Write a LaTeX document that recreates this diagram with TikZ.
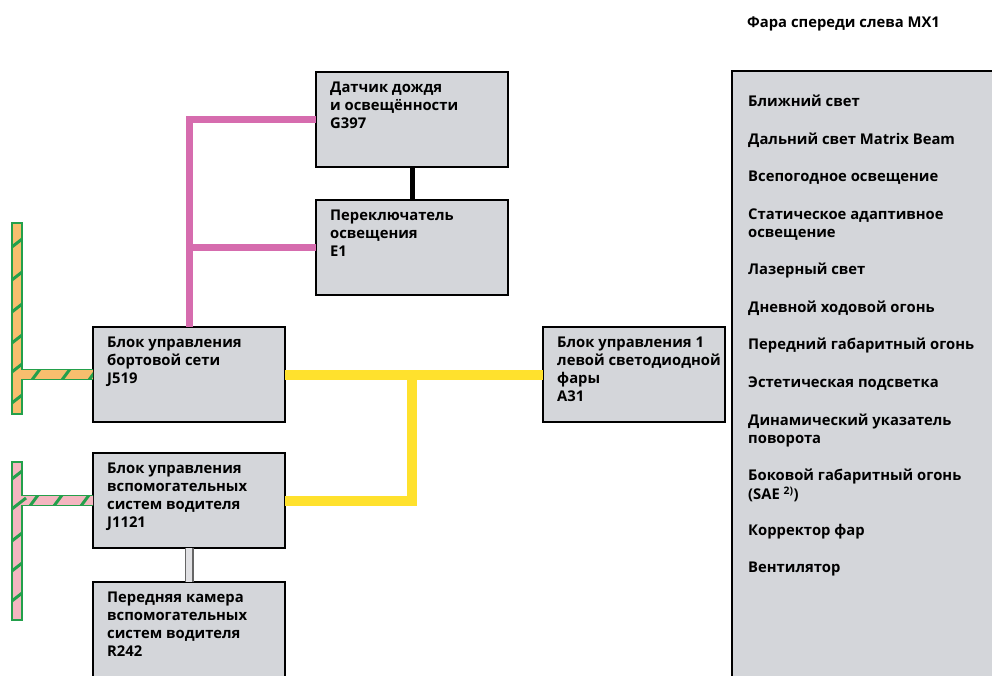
\documentclass[tikz,border=0pt]{standalone}
\usepackage{fontspec}
\setmainfont{Open Sans}
\definecolor{boxgray}{RGB}{212,214,218}
\definecolor{pinkline}{RGB}{214,108,174}
\definecolor{yelline}{RGB}{255,225,45}
\definecolor{busgreen}{RGB}{35,160,75}
\definecolor{busorange}{RGB}{247,190,110}
\definecolor{buspink}{RGB}{244,182,192}
\definecolor{camgray}{RGB}{225,225,228}
\begin{document}
\begin{tikzpicture}[x=1pt,y=-1pt,
  box/.style={draw=black, line width=2.5pt, fill=boxgray, minimum width=192pt,
    minimum height=95pt, anchor=north west, inner sep=0pt, outer sep=0pt},
  txt/.style={font=\fontsize{14.8}{18}\selectfont\bfseries, align=left,
    inner sep=0pt, anchor=north west, text=black},
  pinkconn/.style={draw=pinkline, line width=7pt},
  yelconn/.style={draw=yelline, line width=10pt},
  blkconn/.style={draw=black, line width=5pt},
  camconn/.style={draw=black!60, line width=1.5pt, double=camgray, double distance=6pt},
  stripe/.style={draw=busgreen, line width=3pt},
  busedge/.style={draw=busgreen, line width=1.5pt}
]
\useasboundingbox (0,0) rectangle (992,675);
\clip (0,0) rectangle (992,675);

% boxes
\node[box] (g397) at (316,72) {};
\node[box] (e1) at (316,200) {};
\node[box] (j519) at (93,327) {};
\node[box] (j1121) at (93,453) {};
\node[box] (r242) at (93,582) {};
\node[box, minimum width=182pt] (a31) at (543,327) {};
\node[box, minimum width=290pt, minimum height=640pt] (mx1) at (732,71) {};

% box texts
\node[txt] (g397t) at ([xshift=14pt,yshift=-7.6pt]g397.north west) {\strut Датчик дождя\\и освещённости\\G397};
\node[txt] (e1t) at ([xshift=14pt,yshift=-7.6pt]e1.north west) {\strut Переключатель\\освещения\\E1};
\node[txt] (j519t) at ([xshift=14pt,yshift=-7.6pt]j519.north west) {\strut Блок управления\\бортовой сети\\J519};
\node[txt] (j1121t) at ([xshift=14pt,yshift=-7.6pt]j1121.north west) {\strut Блок управления\\вспомогательных\\систем водителя\\J1121};
\node[txt] (r242t) at ([xshift=14pt,yshift=-7.6pt]r242.north west) {\strut Передняя камера\\вспомогательных\\систем водителя\\R242};
\node[txt] (a31t) at ([xshift=14pt,yshift=-7.6pt]a31.north west) {\strut Блок управления 1\\левой светодиодной\\фары\\A31};

% headlight header and list
\node[txt] (hdr) at (747,14.4) {\strut Фара спереди слева MX1};
\node[txt] (l1) at (748,93.9) {\strut Ближний свет};
\node[txt] (l2) at (748,131.5) {\strut Дальний свет Matrix Beam};
\node[txt] (l3) at (748,169.1) {\strut Всепогодное освещение};
\node[txt] (l4) at (748,206.7) {\strut Статическое адаптивное\\освещение};
\node[txt] (l5) at (748,261.8) {\strut Лазерный свет};
\node[txt] (l6) at (748,299.4) {\strut Дневной ходовой огонь};
\node[txt] (l7) at (748,337.0) {\strut Передний габаритный огонь};
\node[txt] (l8) at (748,374.6) {\strut Эстетическая подсветка};
\node[txt] (l9) at (748,412.2) {\strut Динамический указатель\\поворота};
\node[txt] (l10) at (748,467.3) {\strut Боковой габаритный огонь\\(SAE \textsuperscript{2)})};
\node[txt] (l11) at (748,522.4) {\strut Корректор фар};
\node[txt] (l12) at (748,560.0) {\strut Вентилятор};

% connectors
\draw[pinkconn] (g397.west) -| (j519.north);
\draw[pinkconn] (e1.west) -- (e1.west -| j519.north);
\draw[blkconn] (g397.south) -- (e1.north);
\coordinate (yj) at (g397.south |- j519.east);
\draw[yelconn] (j519.east) -- (a31.west);
\draw[yelconn] (j1121.east) -| ([yshift=5pt]yj);
\draw[camconn] (j1121.south) -- (r242.north);

% orange/green bus to J519
\coordinate (ot) at (12,223);
\coordinate (ou) at ([yshift=5pt]j519.west);
\coordinate (od) at ([yshift=-5pt]j519.west);
\begin{scope}
  \clip (ot) -- (22,223) -- (22,369.5) -- (ou) -- (od) -- (22,379.5) -- (22,414) -- (12,414) -- cycle;
  \fill[busorange] (0,200) rectangle (100,420);
  \foreach \yy in {243,276,308,339,368,399} \draw[stripe] (8,\yy+7) -- (26,\yy-7);
  \foreach \xx in {36,66,93} \draw[stripe] (\xx-7,384) -- (\xx+7,365);
\end{scope}
\draw[busedge] (ou) -- (22,369.5) -- (22,223) -- (ot) -- (12,414) -- (22,414) -- (22,379.5) -- (od);

% pink/green bus to J1121
\coordinate (pt) at (12,462);
\coordinate (pu) at ([yshift=5pt]j1121.west);
\coordinate (pd) at ([yshift=-5pt]j1121.west);
\begin{scope}
  \clip (pt) -- (22,462) -- (22,495.5) -- (pu) -- (pd) -- (22,505.5) -- (22,620) -- (12,620) -- cycle;
  \fill[buspink] (0,450) rectangle (100,630);
  \foreach \yy in {475,505,537,567,597} \draw[stripe] (8,\yy+7) -- (26,\yy-7);
  \foreach \xx in {34,58,85} \draw[stripe] (\xx-7,510) -- (\xx+7,491);
\end{scope}
\draw[busedge] (pu) -- (22,495.5) -- (22,462) -- (pt) -- (12,620) -- (22,620) -- (22,505.5) -- (pd);
\end{tikzpicture}
\end{document}
